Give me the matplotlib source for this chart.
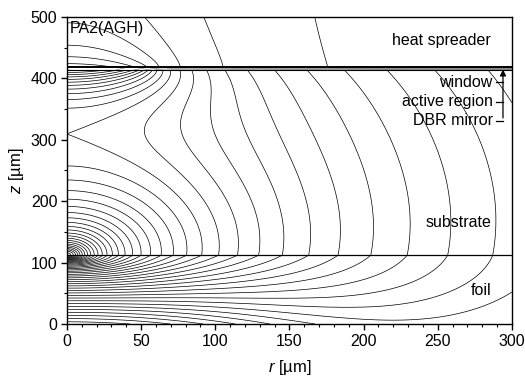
import numpy as np
import matplotlib.pyplot as plt

plt.rcParams['font.family'] = ['Liberation Sans', 'DejaVu Sans']
plt.rcParams['mathtext.fontset'] = 'custom'
plt.rcParams['mathtext.it'] = 'Liberation Sans:italic'
plt.rcParams['mathtext.rm'] = 'Liberation Sans'

# layer boundaries [um]
z_foil = 112.0
z_dbr = 413.0
z_mid = 416.0
z_top = 419.0
layer_lines = [112, 413, 419.3]
layer_widths = [0.9, 0.8, 1.4]

# model parameters of the temperature-like field
r_active = 55.0      # active region radius
w_disk = 0.0072      # weight of active region source
kappa = 0.68         # vertical scale of foil source in substrate
core = 6.0
k_foil = 1.5         # vertical stretch in foil
g_foil = 0.013       # extra vertical gradient in foil
r_foil = 150.0
L_spr = 30.0         # compression length in heat spreader
w_spr_disk = 0.4
w_spr_log = 0.05
d_spr = 0.03
step = 0.12

labels = ['heat spreader', 'substrate', 'foil']
label_z = [461, 166, 54]
marks = ['window', 'active region', 'DBR mirror']
mark_z = [394, 362, 331]


def disk_pot(rr, hh, a, ns=30, nphi=48):
    s = (np.arange(ns) + 0.5) / ns * a
    phi = (np.arange(nphi) + 0.5) / nphi * np.pi
    V = np.zeros_like(rr)
    for si in s:
        d = np.sqrt(rr[..., None] ** 2 + si ** 2 - 2 * rr[..., None] * si * np.cos(phi)
                    + hh[..., None] ** 2 + 1.0)
        V += (1.0 / d).sum(-1) * (2 * np.pi / nphi) * si * (a / ns)
    return V


def log_part(rr, zz, k=kappa):
    return -np.log(np.sqrt(rr ** 2 + (k * (zz - z_foil)) ** 2 + core ** 2))


r = np.linspace(0, 300, 201)
z = np.unique(np.concatenate([np.linspace(0, 112, 150), np.linspace(112, 413, 400),
                              np.linspace(413, 419, 13), np.linspace(419, 500, 110)]))
R, Z = np.meshgrid(r, z)

F = np.zeros_like(R)
m = Z <= z_foil
d = z_foil - Z[m]
F[m] = (log_part(R[m], Z[m], k_foil) - g_foil * d * np.exp(-(R[m] / r_foil) ** 2)
        + w_disk * disk_pot(R[m], Z[m] - z_mid, r_active))
m = (Z > z_foil) & (Z <= z_dbr)
F[m] = log_part(R[m], Z[m]) + w_disk * disk_pot(R[m], Z[m] - z_mid, r_active)

zb = np.full_like(r, z_dbr)
sub_top = log_part(r, zb) + w_disk * disk_pot(r, zb - z_mid, r_active)
h0 = z_top - z_mid
vd0 = disk_pot(np.array([0.0]), np.array([h0]), r_active)[0]
lg0 = log_part(0.0, z_top)
p0 = lg0 + w_disk * vd0


def spreader(rr, zz):
    zm = z_top + L_spr * np.log(1 + (zz - z_top) / L_spr)
    return (p0 - d_spr + w_spr_disk * w_disk * (disk_pot(rr, zm - z_mid, r_active) - vd0)
            + w_spr_log * (log_part(rr, zm) - lg0))


m = Z >= z_top
F[m] = spreader(R[m], Z[m])
spr_bot = spreader(r, np.full_like(r, z_top))
m = (Z > z_dbr) & (Z < z_top)
t = (Z[m] - z_dbr) / (z_top - z_dbr)
ir = np.searchsorted(r, R[m])
F[m] = (1 - t) * sub_top[ir] + t * spr_bot[ir]

# anchor the levels at the saddle point on the axis
col = F[:, 0]
band = (z > 150) & (z < 400)
f_saddle = col[band].min()
levels = f_saddle + step * np.arange(-45, 60)

in_layer = (Z > z_dbr + 0.2) & (Z < z_top - 0.2)
F_out = np.where(in_layer, np.nan, F)
F_in = np.where((Z >= z_dbr) & (Z <= z_top), F, np.nan)

fig = plt.figure(figsize=(5.25, 3.78), dpi=100)
ax = fig.add_axes([0.1276, 0.1429, 0.8474, 0.8121])
ax.contour(R, Z, F_out, levels=levels, colors='black', linewidths=0.5, linestyles='solid')
ax.contour(R, Z, F_in, levels=levels[::2], colors='0.35', linewidths=0.35, linestyles='solid')
for zl, lw in zip(layer_lines, layer_widths):
    ax.axhline(zl, color='black', lw=lw)

ax.set_xlim(0, 300)
ax.set_ylim(0, 500)
ax.set_xticks(np.arange(0, 301, 50))
ax.set_xticks(np.arange(0, 301, 10), minor=True)
ax.set_yticks(np.arange(0, 501, 100))
ax.set_yticks(np.arange(0, 501, 50), minor=True)
ax.tick_params(which='major', length=4, width=1, labelsize=11.5, direction='out', pad=3)
ax.tick_params(which='minor', length=2.5, width=0.8, direction='out')
for sp in ax.spines.values():
    sp.set_linewidth(1.0)
ax.set_xlabel('$r$ [µm]', fontsize=12, labelpad=7)
ax.set_ylabel('$z$ [µm]', fontsize=12, labelpad=3)

ax.text(2, 494, 'PA2(AGH)', fontsize=11.5, ha='left', va='top')
for lab, zl in zip(labels, label_z):
    ax.text(286, zl, lab, fontsize=11.5, ha='right', va='center')
for lab, zl in zip(marks, mark_z):
    ax.text(287, zl, lab, fontsize=11.5, ha='right', va='center')
    ax.plot([289, 294], [zl, zl], color='black', lw=0.9)
ax.annotate('', xy=(294, 419), xytext=(294, mark_z[-1]),
            arrowprops=dict(arrowstyle='-|>', color='black', lw=0.9, mutation_scale=9))

fig.savefig('out.png', dpi=100)
